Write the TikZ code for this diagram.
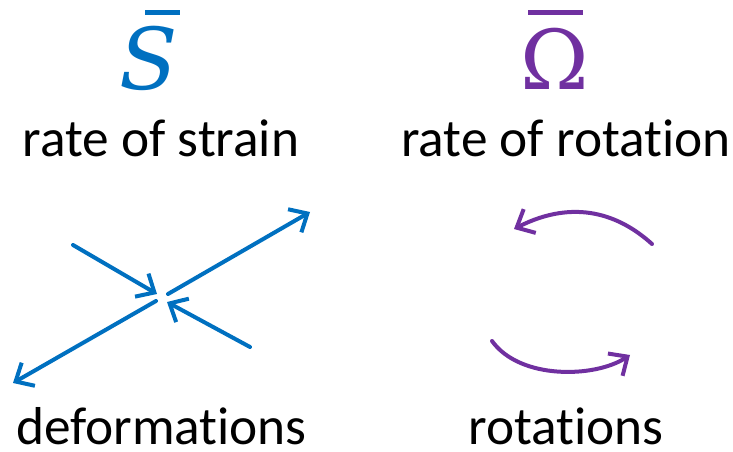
\documentclass[tikz,border=0pt]{standalone}
\usepackage{fontspec}
\setmainfont{Carlito}[Ligatures={NoCommon}]
\newfontfamily\symfnt{DejaVu Serif}
\usetikzlibrary{arrows.meta}
\definecolor{myblue}{HTML}{0070C0}
\definecolor{mypurple}{HTML}{7030A0}
\tikzset{
  lbl/.style={anchor=base, inner sep=0pt, font=\fontsize{40}{42}\selectfont},
  sym/.style={anchor=base, inner sep=0pt, font=\symfnt\fontsize{64}{66}\selectfont},
  barb/.style={line width=3pt, line cap=round, line join=round,
    -{Straight Barb[length=11pt,width=20pt,line width=3pt]}},
}
\begin{document}
\begin{tikzpicture}[x=0.75pt,y=-0.75pt]
\useasboundingbox (0,0) rectangle (733,452);
% symbols
\node[sym, text=myblue] (S) at (149,90) {\itshape S};
\fill[myblue] (145,10) rectangle (180,15);
\node[sym, text=mypurple] (W) at (555,90) {\fontsize{62}{64}\selectfont Ω};
\fill[mypurple] (528,10) rectangle (583,15);
% labels
\node[lbl] (rs) at (161,157) {rate of strain};
\node[lbl] (rr) at (566,157) {rate of rotation};
\node[lbl] (df) at (161.5,445) {deformations};
\node[lbl] (rt) at (566,445) {rotations};
% blue arrows
\coordinate (a1s) at (73,245);  \coordinate (a1e) at (157,294);
\coordinate (a2s) at (250,347); \coordinate (a2e) at (167,302);
\coordinate (a3s) at (168,294); \coordinate (a3e) at (310,212);
\coordinate (a4s) at (156,301); \coordinate (a4e) at (13,383);
\draw[barb, myblue] (a1s) -- (a1e);
\draw[barb, myblue] (a2s) -- (a2e);
\draw[barb, myblue] (a3s) -- (a3e);
\draw[barb, myblue] (a4s) -- (a4e);
% purple arrows
\coordinate (p1s) at (652,244); \coordinate (p1e) at (514,229);
\coordinate (p2s) at (492,341); \coordinate (p2e) at (630,355);
\draw[barb, mypurple] (p1s) .. controls (620,215) and (575,198) .. (p1e);
\draw[barb, mypurple] (p2s) .. controls (520,380) and (595,378) .. (p2e);
\end{tikzpicture}
\end{document}
